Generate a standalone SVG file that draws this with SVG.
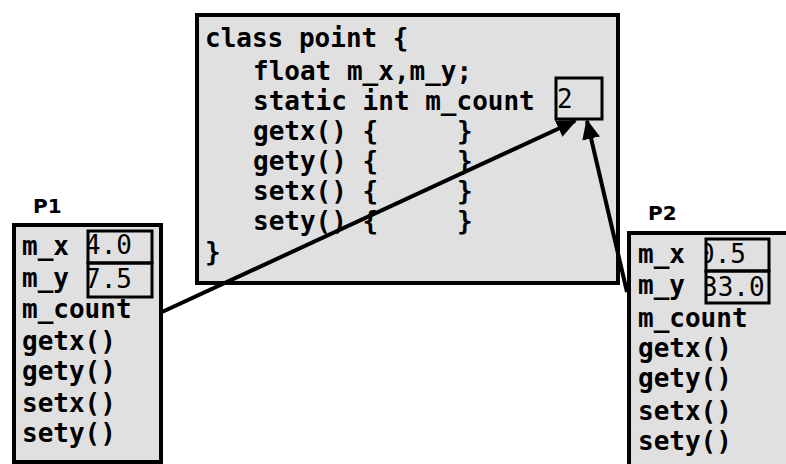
<svg xmlns="http://www.w3.org/2000/svg" width="786" height="464" viewBox="0 0 786 464">
<style>
.box{fill:#e0e0e0;stroke:#000;stroke-width:4}
.vb{fill:none;stroke:#000;stroke-width:3}
.t{font-family:"DejaVu Sans Mono",monospace;font-weight:bold;font-size:26px;fill:#000}
.v{font-family:"DejaVu Sans Mono",monospace;font-size:26px;fill:#000}
.lbl{font-family:"DejaVu Sans",sans-serif;font-weight:bold;font-size:20px;fill:#000}
.conn{stroke:#000;stroke-width:4;fill:none}
</style>
<defs>
<marker id="ah" markerWidth="20" markerHeight="18" refX="18" refY="9" orient="auto" markerUnits="userSpaceOnUse">
<path d="M0,0 L20,9 L0,18 Z" fill="#000"/>
</marker>
<clipPath id="c1"><rect x="88" y="231" width="64" height="31"/></clipPath>
<clipPath id="c2"><rect x="88" y="264" width="64" height="33"/></clipPath>
<clipPath id="c3"><rect x="706" y="239" width="63" height="31"/></clipPath>
<clipPath id="c4"><rect x="706" y="272" width="63" height="30"/></clipPath>
</defs>
<rect width="786" height="464" fill="#fff"/>
<g id="class">
<rect class="box" x="197" y="15" width="421" height="268"/>
<text class="t" x="205" y="47">class point {</text>
<text class="t" x="253" y="80">float m_x,m_y;</text>
<text class="t" x="253" y="110">static int m_count</text>
<text class="t" x="253" y="140">getx() {</text><text class="t" x="457" y="140">}</text>
<text class="t" x="253" y="170">gety() {</text><text class="t" x="457" y="170">}</text>
<text class="t" x="253" y="200">setx() {</text><text class="t" x="457" y="200">}</text>
<text class="t" x="253" y="230">sety() {</text><text class="t" x="457" y="230">}</text>
<text class="t" x="205" y="261">}</text>
<rect class="vb" x="556" y="78" width="46" height="41"/>
<text class="v" x="557" y="108">2</text>
</g>
<g id="p1">
<text class="lbl" x="33" y="213">P1</text>
<rect class="box" x="14" y="225" width="147" height="237"/>
<text class="t" x="22" y="255">m_x</text>
<text class="t" x="22" y="287">m_y</text>
<text class="t" x="22" y="318">m_count</text>
<text class="t" x="22" y="350">getx()</text>
<text class="t" x="22" y="380">gety()</text>
<text class="t" x="22" y="412">setx()</text>
<text class="t" x="22" y="442">sety()</text>
<g clip-path="url(#c1)"><text class="v" x="85" y="254">4.0</text></g>
<g clip-path="url(#c2)"><text class="v" x="85" y="288">7.5</text></g>
<rect class="vb" x="88" y="231" width="64" height="32"/>
<rect class="vb" x="88" y="263" width="64" height="34"/>
</g>
<g id="p2">
<text class="lbl" x="648" y="220">P2</text>
<rect class="box" x="629" y="233" width="170" height="250"/>
<text class="t" x="638" y="263">m_x</text>
<text class="t" x="638" y="294">m_y</text>
<text class="t" x="638" y="327">m_count</text>
<text class="t" x="638" y="357">getx()</text>
<text class="t" x="638" y="387">gety()</text>
<text class="t" x="638" y="420">setx()</text>
<text class="t" x="638" y="450">sety()</text>
<g clip-path="url(#c3)"><text class="v" x="699" y="263">0.5</text></g>
<g clip-path="url(#c4)"><text class="v" x="702" y="296">33.0</text></g>
<rect class="vb" x="706" y="239" width="63" height="32"/>
<rect class="vb" x="706" y="271" width="63" height="32"/>
</g>
<g id="connectors">
<line class="conn" x1="162" y1="312" x2="575" y2="121" marker-end="url(#ah)"/>
<line class="conn" x1="627" y1="292" x2="587" y2="121" marker-end="url(#ah)"/>
</g>
</svg>
